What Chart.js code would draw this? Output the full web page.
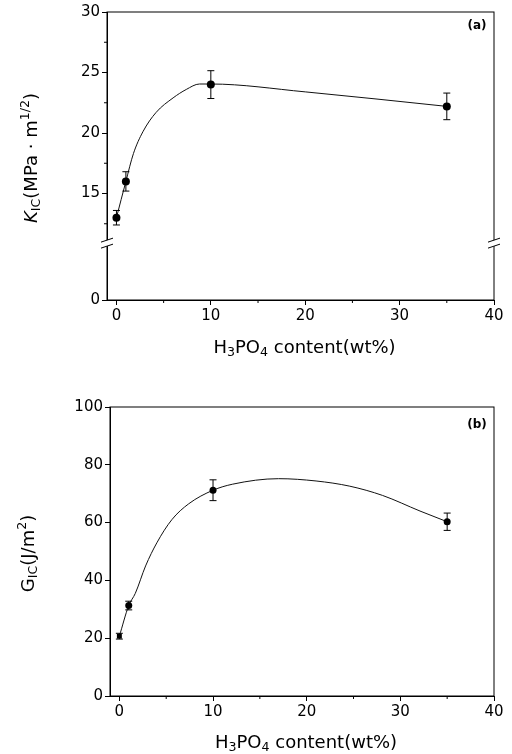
<!DOCTYPE html>
<html>
<head>
<meta charset="utf-8">
<script src="https://cdn.jsdelivr.net/npm/chart.js@4.4.0/dist/chart.umd.min.js"></script>
<style>
  body { margin: 0; background: #fff; }
  canvas { display: block; }
</style>
</head>
<body>
<canvas id="chartA" width="512" height="377"></canvas>
<canvas id="chartB" width="512" height="377"></canvas>
<script>
// measured points (H3PO4 wt%)
var contentWt = [0, 1, 10, 35];
var kicValues = [13.0, 16.0, 24.0, 22.2];
var kicErrors = [0.6, 0.8, 1.15, 1.1];
var gicValues = [20.7, 31.3, 71.2, 60.3];
var gicErrors = [1.0, 1.5, 3.6, 3.0];

// hand drawn guide curves
var kicCurveX = [0, 1, 1.8, 2.8, 4.2, 6.0, 7.4, 8.8, 10, 20, 35];
var kicCurveY = [13.0, 16.0, 18.3, 20.1, 21.7, 22.9, 23.6, 24.05, 24.05, 23.4, 22.2];
var gicCurveX = [0, 1, 1.7, 2.8, 4.0, 5.6, 7.4, 10, 12.1, 17, 21, 24.6, 28.1, 32.1, 35];
var gicCurveY = [20.7, 31.3, 35.5, 45.0, 53.0, 61.0, 66.5, 71.2, 73.3, 75.2, 74.4, 72.6, 69.4, 64.0, 60.3];

// axes
var xTicks = [0, 10, 20, 30, 40];
var xMinorTicks = [5, 15, 25, 35];
var kicTicks = [15, 20, 25, 30];
var kicMinorTicks = [12.5, 17.5, 22.5, 27.5];
var gicTicks = [0, 20, 40, 60, 80, 100];

var KIC_ZERO = 6.2;    // axis value where the "0" of the broken axis sits
var KIC_BREAK = 10.9;  // axis value of the break marks

var FONT = "'DejaVu Sans', 'Liberation Sans', sans-serif";

function toPoints(xs, ys) {
	return xs.map(function (x, i) { return { x: x, y: ys[i] }; });
}

// draws text made of normal / italic / sub / sup parts, centred on 0,0
function drawRich(ctx, parts, size) {
	var total = 0;
	parts.forEach(function (p) {
		p.size = (p.sub || p.sup) ? size * 0.7 : size;
		p.font = (p.it ? 'italic ' : '') + p.size + 'px ' + FONT;
		ctx.font = p.font;
		p.w = ctx.measureText(p.t).width;
		total += p.w;
	});
	var x = -total / 2;
	ctx.textBaseline = 'middle';
	ctx.textAlign = 'left';
	parts.forEach(function (p) {
		var dy = p.sub ? size * 0.25 : (p.sup ? -size * 0.35 : 0);
		ctx.font = p.font;
		ctx.fillText(p.t, x, dy);
		x += p.w;
	});
}

function drawBreak(ctx, x, y) {
	ctx.save();
	ctx.fillStyle = '#fff';
	ctx.beginPath();
	ctx.moveTo(x - 6, y - 1);
	ctx.lineTo(x + 6, y - 5);
	ctx.lineTo(x + 6, y + 1);
	ctx.lineTo(x - 6, y + 5);
	ctx.closePath();
	ctx.fill();
	ctx.strokeStyle = '#000';
	ctx.lineWidth = 1;
	ctx.beginPath();
	ctx.moveTo(x - 6, y - 1); ctx.lineTo(x + 6, y - 5);
	ctx.moveTo(x - 6, y + 5); ctx.lineTo(x + 6, y + 1);
	ctx.stroke();
	ctx.restore();
}

function makeDecor(cfg) {
	return {
		id: 'decor',
		afterDraw: function (chart) {
			var ctx = chart.ctx, xs = chart.scales.x, ys = chart.scales.y, a = chart.chartArea;
			ctx.save();
			ctx.strokeStyle = '#000';
			ctx.fillStyle = '#000';
			ctx.lineWidth = 1;

			// error bars
			cfg.values.forEach(function (v, i) {
				var px = xs.getPixelForValue(contentWt[i]);
				var top = ys.getPixelForValue(v + cfg.errors[i]);
				var bot = ys.getPixelForValue(v - cfg.errors[i]);
				ctx.beginPath();
				ctx.moveTo(px, top); ctx.lineTo(px, bot);
				ctx.moveTo(px - 3.5, top); ctx.lineTo(px + 3.5, top);
				ctx.moveTo(px - 3.5, bot); ctx.lineTo(px + 3.5, bot);
				ctx.stroke();
			});

			// frame
			ctx.strokeRect(a.left, a.top, a.right - a.left, a.bottom - a.top);

			// minor ticks
			ctx.beginPath();
			xMinorTicks.forEach(function (v) {
				var px = xs.getPixelForValue(v);
				ctx.moveTo(px, a.bottom); ctx.lineTo(px, a.bottom + 3);
			});
			(cfg.yMinor || []).forEach(function (v) {
				var py = ys.getPixelForValue(v);
				ctx.moveTo(a.left, py); ctx.lineTo(a.left - 3, py);
			});
			ctx.stroke();

			if (cfg.breakAt) {
				var by = ys.getPixelForValue(cfg.breakAt);
				drawBreak(ctx, a.left, by);
				drawBreak(ctx, a.right, by);
			}

			// panel label
			ctx.font = 'bold 12px ' + FONT;
			ctx.textAlign = 'center';
			ctx.textBaseline = 'middle';
			ctx.fillText(cfg.panel, a.right - 17, a.top + cfg.panelDy);

			// axis titles
			ctx.save();
			ctx.translate((a.left + a.right) / 2 + 4, a.bottom + cfg.xTitleDy);
			drawRich(ctx, [{ t: 'H' }, { t: '3', sub: true }, { t: 'PO' }, { t: '4', sub: true }, { t: ' content(wt%)' }], 18);
			ctx.restore();

			ctx.save();
			ctx.translate(cfg.yTitleX, (a.top + a.bottom) / 2 + 2);
			ctx.rotate(-Math.PI / 2);
			drawRich(ctx, cfg.yTitle, 18);
			ctx.restore();

			ctx.restore();
		}
	};
}

function makeChart(id, cfg) {
	var tickFont = { family: FONT, size: 15 };
	return new Chart(document.getElementById(id), {
		type: 'scatter',
		data: {
			datasets: [{
				data: toPoints(contentWt, cfg.values),
				showLine: false,
				pointRadius: cfg.pointRadius,
				pointStyle: cfg.pointStyles,
				backgroundColor: '#000',
				borderColor: '#000',
				borderWidth: 0
			}, {
				type: 'line',
				data: toPoints(cfg.curveX, cfg.curveY),
				borderColor: '#111',
				borderWidth: 1,
				pointRadius: 0,
				cubicInterpolationMode: 'monotone',
				fill: false
			}]
		},
		options: {
			responsive: false,
			animation: false,
			events: [],
			layout: { padding: cfg.padding },
			plugins: { legend: { display: false }, tooltip: { enabled: false } },
			scales: {
				x: {
					type: 'linear', min: -1, max: 40,
					afterBuildTicks: function (s) {
						s.ticks = xTicks.map(function (v) { return { value: v }; });
					},
					afterFit: function (s) { s.height = cfg.xHeight; },
					ticks: { font: tickFont, color: '#000', padding: 2, maxRotation: 0 },
					grid: { drawOnChartArea: false, tickLength: 5, color: '#000' },
					border: { color: '#000' }
				},
				y: {
					type: 'linear', min: cfg.yMin, max: cfg.yMax,
					afterBuildTicks: function (s) {
						s.ticks = cfg.yTicks.map(function (v) { return { value: v }; });
					},
					afterFit: function (s) { s.width = cfg.yWidth; },
					ticks: {
						font: tickFont, color: '#000', padding: 2,
						callback: function (v) { return v === KIC_ZERO ? '0' : v; }
					},
					grid: { drawOnChartArea: false, tickLength: 5, color: '#000' },
					border: { color: '#000' }
				}
			}
		},
		plugins: [makeDecor(cfg)]
	});
}

makeChart('chartA', {
	values: kicValues, errors: kicErrors,
	curveX: kicCurveX, curveY: kicCurveY,
	yMin: KIC_ZERO, yMax: 30,
	yTicks: [KIC_ZERO].concat(kicTicks),
	yMinor: kicMinorTicks,
	breakAt: KIC_BREAK,
	pointRadius: 4,
	pointStyles: 'circle',
	padding: { top: 12, right: 18, left: 0, bottom: 0 },
	xHeight: 77, yWidth: 107,
	panel: '(a)', panelDy: 14,
	xTitleDy: 48, yTitleX: 32,
	yTitle: [{ t: 'K', it: true }, { t: 'IC', sub: true }, { t: '(MPa · m' }, { t: '1/2', sup: true }, { t: ')' }]
});

makeChart('chartB', {
	values: gicValues, errors: gicErrors,
	curveX: gicCurveX, curveY: gicCurveY,
	yMin: 0, yMax: 100,
	yTicks: gicTicks,
	pointRadius: 3.5,
	pointStyles: ['rect', 'circle', 'circle', 'circle'],
	padding: { top: 30, right: 18, left: 0, bottom: 0 },
	xHeight: 58, yWidth: 110,
	panel: '(b)', panelDy: 18,
	xTitleDy: 47, yTitleX: 29,
	yTitle: [{ t: 'G' }, { t: 'IC', sub: true }, { t: '(J/m' }, { t: '2', sup: true }, { t: ')' }]
});
</script>
</body>
</html>
